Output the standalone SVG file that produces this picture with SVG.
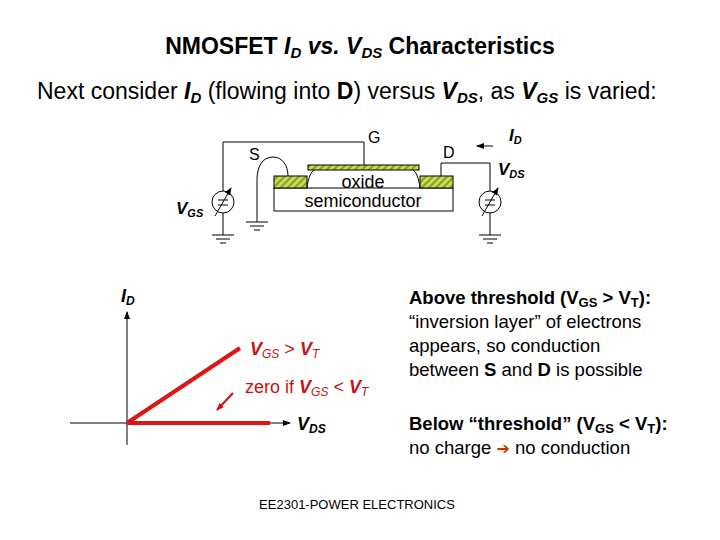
<svg xmlns="http://www.w3.org/2000/svg" width="720" height="540" viewBox="0 0 720 540">
<style>
text{font-family:"Liberation Sans",Arial,sans-serif;}
.w{fill:none;stroke:#000;stroke-width:1}
.r{fill:#cc1010}
</style>
<defs>
<pattern id="h" width="5" height="5" patternUnits="userSpaceOnUse" patternTransform="rotate(45)"><rect width="5" height="5" fill="#c8d85a"/><rect width="2" height="5" fill="#8aa020"/></pattern>
<marker id="a" markerWidth="8" markerHeight="8" refX="7" refY="4" orient="auto" markerUnits="userSpaceOnUse"><path d="M0,1 L8,4 L0,7z"/></marker>
<marker id="ar" markerWidth="8" markerHeight="8" refX="7" refY="4" orient="auto" markerUnits="userSpaceOnUse"><path d="M0,1 L8,4 L0,7z" fill="#cc1010"/></marker>
<g id="gnd"><path class="w" d="M-11,0H11M-7,4H7M-3,8H3"/></g>
<g id="src"><circle r="11" fill="#fff" stroke="#000"/><path class="w" d="M-5,-2H5M-5,3H5"/><path class="w" d="M-8,14L8,-14" stroke-width="1.5" marker-end="url(#a)"/></g>
</defs>
<text x="360" y="54" font-size="23" font-weight="bold" text-anchor="middle">NMOSFET <tspan font-style="italic">I</tspan><tspan font-style="italic" font-size="15" dy="4">D</tspan><tspan dy="-4" font-style="italic"> vs. V</tspan><tspan font-style="italic" font-size="15" dy="4">DS</tspan><tspan dy="-4"> Characteristics</tspan></text>
<text x="37" y="99" font-size="23">Next consider <tspan font-weight="bold" font-style="italic">I</tspan><tspan font-weight="bold" font-style="italic" font-size="15" dy="4">D</tspan><tspan dy="-4"> (flowing into </tspan><tspan font-weight="bold">D</tspan><tspan>) versus </tspan><tspan font-weight="bold" font-style="italic">V</tspan><tspan font-weight="bold" font-style="italic" font-size="15" dy="4">DS</tspan><tspan dy="-4">, as </tspan><tspan font-weight="bold" font-style="italic">V</tspan><tspan font-weight="bold" font-style="italic" font-size="15" dy="4">GS</tspan><tspan dy="-4"> is varied:</tspan></text>
<g id="connectors">
<path class="w" d="M223,191V142H364V165"/>
<path class="w" d="M223,213V235"/>
<path class="w" d="M288,176C288,165 282,157 273,157C262,157 257,167 257,180V217"/>
<path class="w" d="M441,176V163H490V191"/>
<path class="w" d="M490,213V235"/>
<path class="w" d="M493,146H477" stroke-width="1.5" marker-end="url(#a)"/>
</g>
<g id="device">
<rect x="274" y="188" width="179" height="23" fill="#fff" stroke="#000"/>
<rect x="274" y="176" width="33" height="12" fill="url(#h)" stroke="#000"/>
<rect x="420" y="176" width="33" height="12" fill="url(#h)" stroke="#000"/>
<path class="w" d="M307,188C308,178 311,172 314,170M420,188C419,178 416,172 413,170"/>
<rect x="308" y="165" width="111" height="5" fill="url(#h)" stroke="#000"/>
<text x="363" y="188" font-size="18" text-anchor="middle">oxide</text>
<text x="363" y="207" font-size="18" text-anchor="middle">semiconductor</text>
</g>
<g id="vgs"><use href="#src" x="223" y="202"/><use href="#gnd" x="223" y="235"/>
<text x="176" y="214" font-size="17" font-weight="bold" font-style="italic">V<tspan font-size="11" dy="3">GS</tspan></text></g>
<g id="sgnd"><use href="#gnd" x="257" y="222"/><path class="w" d="M257,217V222"/><text x="249" y="160" font-size="16">S</text></g>
<g id="vds"><use href="#src" x="490" y="202"/><use href="#gnd" x="490" y="235"/>
<text x="498" y="175" font-size="17" font-weight="bold" font-style="italic">V<tspan font-size="11" dy="3">DS</tspan></text>
<text x="509" y="141" font-size="17" font-weight="bold" font-style="italic">I<tspan font-size="11" dy="3">D</tspan></text></g>
<text x="368" y="143" font-size="16">G</text>
<text x="443" y="158" font-size="16">D</text>
<g id="graph">
<path class="w" d="M127,445V312" marker-end="url(#a)"/>
<path class="w" d="M70,423H290" marker-end="url(#a)"/>
<path d="M127,423L240,348M127,423H270" stroke="#dd1515" stroke-width="4" fill="none"/>
<path d="M233,393L217,410" stroke="#cc1010" stroke-width="2" marker-end="url(#ar)"/>
<text x="121" y="302" font-size="18" font-weight="bold" font-style="italic">I<tspan font-size="12" dy="3">D</tspan></text>
<text x="250" y="355" font-size="18" class="r"><tspan font-weight="bold" font-style="italic">V</tspan><tspan font-size="12" dy="3" font-style="italic">GS</tspan><tspan dy="-3"> &gt; </tspan><tspan font-weight="bold" font-style="italic">V</tspan><tspan font-size="12" dy="3" font-style="italic">T</tspan></text>
<text x="245" y="393" font-size="18" class="r">zero if <tspan font-weight="bold" font-style="italic">V</tspan><tspan font-size="12" dy="3" font-style="italic">GS</tspan><tspan dy="-3"> &lt; </tspan><tspan font-weight="bold" font-style="italic">V</tspan><tspan font-size="12" dy="3" font-style="italic">T</tspan></text>
<text x="297" y="430" font-size="18" font-weight="bold" font-style="italic">V<tspan font-size="12" dy="3">DS</tspan></text>
</g>
<g font-size="18.5">
<text x="409" y="304" font-weight="bold">Above threshold (V<tspan font-size="13" dy="3">GS</tspan><tspan dy="-3"> &gt; V</tspan><tspan font-size="13" dy="3">T</tspan><tspan dy="-3">):</tspan></text>
<text x="409" y="328">“inversion layer” of electrons</text>
<text x="409" y="352">appears, so conduction</text>
<text x="409" y="376">between <tspan font-weight="bold">S</tspan> and <tspan font-weight="bold">D</tspan> is possible</text>
<text x="409" y="430" font-weight="bold">Below “threshold” (V<tspan font-size="13" dy="3">GS</tspan><tspan dy="-3"> &lt; V</tspan><tspan font-size="13" dy="3">T</tspan><tspan dy="-3">):</tspan></text>
<text x="409" y="454">no charge <tspan fill="#cc3300" font-family="DejaVu Sans" font-size="16">➔</tspan> no conduction</text>
</g>
<text x="357" y="509" font-size="13" text-anchor="middle">EE2301-POWER ELECTRONICS</text>
</svg>
